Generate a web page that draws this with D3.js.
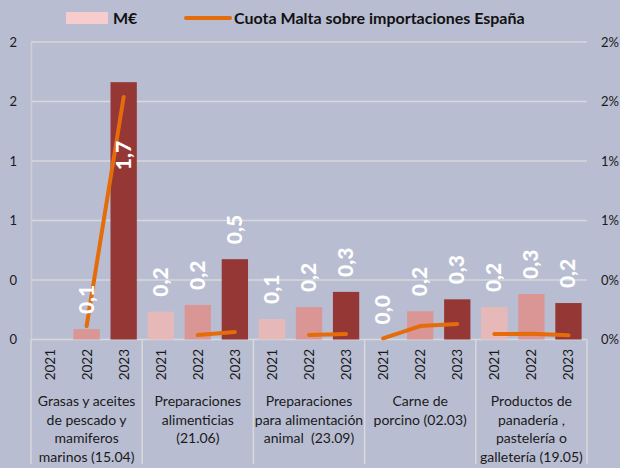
<!DOCTYPE html>
<html><head><meta charset="utf-8">
<script src="https://cdn.jsdelivr.net/npm/d3@7"></script>
<style>
html,body{margin:0;padding:0;background:#B9BDD2;}
svg{display:block;font-family:Lato,"Open Sans",sans-serif;}
</style></head>
<body><svg id="c" width="620" height="468"></svg>
<script>
const years = ["2021", "2022", "2023"];
const categories = [
  ["Grasas y aceites", "de pescado y", "mamiferos", "marinos (15.04)"],
  ["Preparaciones", "alimenticias", "(21.06)"],
  ["Preparaciones", "para alimentación", "animal  (23.09)"],
  ["Carne de", "porcino (02.03)"],
  ["Productos de", "panadería ,", "pastelería o", "galletería (19.05)"]
];
// M€ per category, per year
const meur2021 = [null, 0.187, 0.138, 0.0, 0.218];
const meur2022 = [0.07, 0.232, 0.218, 0.19, 0.306];
const meur2023 = [1.73, 0.54, 0.32, 0.27, 0.245];
// Cuota Malta sobre importaciones España (fraction)
const cuota2021 = [null, null, null, 0.00008, 0.00037];
const cuota2022 = [0.0009, 0.0003, 0.0003, 0.0009, 0.00038];
const cuota2023 = [0.0163, 0.0005, 0.00037, 0.00105, 0.00028];
const leftTicks = [0, 0.4, 0.8, 1.2, 1.6, 2.0];
const rightTicks = [0, 0.004, 0.008, 0.012, 0.016, 0.02];
const legendLabels = ["M€", "Cuota Malta sobre importaciones España"];

const meurByYear = [meur2021, meur2022, meur2023];
const cuotaByYear = [cuota2021, cuota2022, cuota2023];
const yearColors = ["#E6B9B8", "#D99694", "#953735"];

const svg = d3.select("#c");
const L = 31, R = 587, T = 42, B = 339.5;

const slots = [];
categories.forEach((c, ci) => years.forEach((y, yi) => slots.push(ci + "_" + yi)));
const x = d3.scaleBand().domain(slots).range([L, R]).paddingInner(0.29).paddingOuter(0.145);
const xOuter = d3.scaleBand().domain(slots).range([L, R]).padding(0);
const yL = d3.scaleLinear().domain([0, 2]).range([B, T]);
const yR = d3.scaleLinear().domain([0, 0.02]).range([B, T]);

// gridlines
svg.append("g").selectAll("line").data(leftTicks.slice(1)).join("line")
  .attr("x1", L).attr("x2", R).attr("y1", d => yL(d)).attr("y2", d => yL(d))
  .attr("stroke", "#D9D9D9").attr("stroke-width", 1.5);

// left axis
const axL = svg.append("g").attr("transform", `translate(${L},0)`)
  .call(d3.axisLeft(yL).tickValues(leftTicks).tickFormat(d3.format(".0f")).tickSize(0).tickPadding(14));
axL.select(".domain").attr("stroke", "#D0D0D0").attr("stroke-width", 1.5);
axL.selectAll("text").attr("font-size", 13).attr("fill", "#1a1a1a").attr("font-family", "Lato,sans-serif");

// right axis
const axR = svg.append("g").attr("transform", `translate(${R},0)`)
  .call(d3.axisRight(yR).tickValues(rightTicks).tickFormat(d3.format(".0%")).tickSize(0).tickPadding(14));
axR.select(".domain").remove();
axR.selectAll("text").attr("font-size", 13).attr("fill", "#1a1a1a").attr("font-family", "Lato,sans-serif");

// baseline and category separators
svg.append("line").attr("x1", L).attr("x2", R).attr("y1", B).attr("y2", B)
  .attr("stroke", "#D9D9D9").attr("stroke-width", 1.5);
const sepX = d3.range(categories.length + 1).map(i => i < categories.length ? xOuter(i + "_0") : R);
svg.append("g").selectAll("line").data(sepX).join("line")
  .attr("x1", d => d).attr("x2", d => d).attr("y1", B).attr("y2", 464)
  .attr("stroke", "#D9D9D9").attr("stroke-width", 1.5);

// bars
const barData = [];
categories.forEach((c, ci) => years.forEach((y, yi) => {
  const v = meurByYear[yi][ci];
  if (v !== null) barData.push({ci, yi, v, key: ci + "_" + yi});
}));
svg.append("g").selectAll("rect").data(barData).join("rect")
  .attr("x", d => x(d.key)).attr("width", x.bandwidth())
  .attr("y", d => yL(d.v)).attr("height", d => B - yL(d.v))
  .attr("fill", d => yearColors[d.yi]);

// lines
const line = d3.line().defined(d => d.v !== null)
  .x(d => xOuter(d.key) + xOuter.bandwidth() / 2).y(d => yR(d.v));
categories.forEach((c, ci) => {
  const pts = years.map((y, yi) => ({key: ci + "_" + yi, v: cuotaByYear[yi][ci]}));
  svg.append("path").attr("d", line(pts)).attr("fill", "none")
    .attr("stroke", "#E46C0A").attr("stroke-width", 4)
    .attr("stroke-linecap", "round").attr("stroke-linejoin", "round");
});

// data labels
const fmt = v => d3.format(".1f")(v).replace(".", ",");
svg.append("g").selectAll("text").data(barData).join("text")
  .attr("transform", d => {
    const cx = x(d.key) + x.bandwidth() / 2 + 7;
    let yy = yL(d.v) - 15;
    if (yy - 30 < T + 10) yy = yL(d.v) + 88;
    return `translate(${cx},${yy}) rotate(-90)`;
  })
  .attr("text-anchor", "start").attr("fill", "#fff")
  .attr("font-weight", 900).attr("font-size", 21)
  .text(d => fmt(d.v));

// year labels
svg.append("g").selectAll("text").data(slots).join("text")
  .attr("transform", d => `translate(${xOuter(d) + xOuter.bandwidth() / 2 + 5},349) rotate(-90)`)
  .attr("text-anchor", "end").attr("font-size", 13.5).attr("fill", "#1a1a1a")
  .text(d => years[+d.split("_")[1]]);

// category labels
categories.forEach((lines, ci) => {
  const cx = xOuter(ci + "_1") + xOuter.bandwidth() / 2;
  const t = svg.append("text").attr("text-anchor", "middle").attr("font-size", 14).attr("fill", "#1a1a1a");
  lines.forEach((s, i) => t.append("tspan").attr("x", cx).attr("y", 406 + i * 18.5).attr("xml:space", "preserve").text(s));
});

// legend
const lg = svg.append("g");
lg.append("rect").attr("x", 66).attr("y", 12).attr("width", 42).attr("height", 12).attr("fill", "#F6CDCC");
lg.append("text").attr("x", 113).attr("y", 24).attr("font-weight", "bold").attr("font-size", 16).attr("fill", "#111").text(legendLabels[0]);
lg.append("line").attr("x1", 186).attr("x2", 230).attr("y1", 18).attr("y2", 18)
  .attr("stroke", "#E46C0A").attr("stroke-width", 4).attr("stroke-linecap", "round");
lg.append("text").attr("x", 234).attr("y", 24).attr("font-weight", "bold").attr("font-size", 16).attr("fill", "#111").text(legendLabels[1]);
</script></body></html>
